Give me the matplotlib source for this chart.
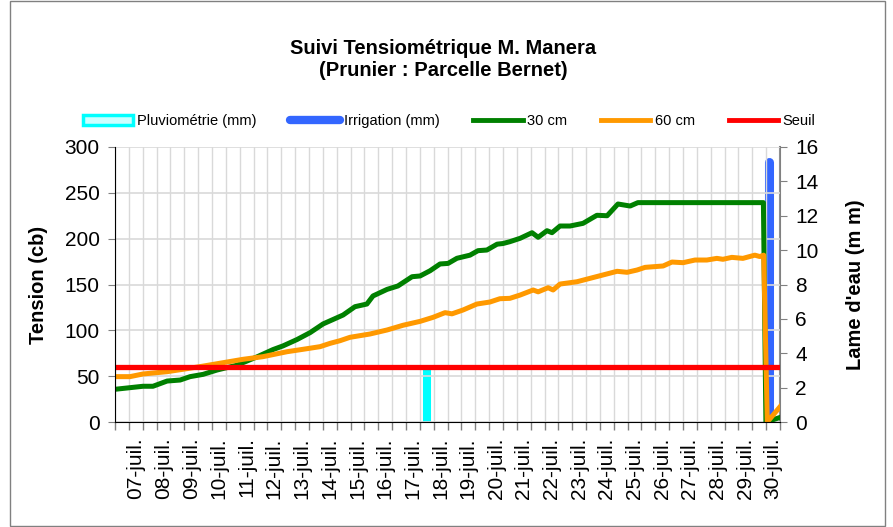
import numpy as np
import matplotlib.pyplot as plt
from matplotlib.patches import Patch, Rectangle
from matplotlib.lines import Line2D

plt.rcParams['font.family'] = ['Liberation Sans', 'DejaVu Sans']

# temps en jours de juillet (fractions)
jours_30 = [6.25, 7.26, 7.62, 8.13, 8.60, 8.96, 9.43, 9.93, 10.65, 11.37, 11.95,
            12.31, 12.82, 13.29, 13.76, 14.48, 14.91, 15.34, 15.56, 16.07, 16.46,
            16.97, 17.26, 17.62, 17.98, 18.27, 18.59, 19.06, 19.35, 19.67, 20.04,
            20.25, 20.50, 20.87, 21.30, 21.52, 21.84, 22.02, 22.31, 22.67, 23.14,
            23.64, 24.01, 24.40, 24.84, 25.12, 29.65, 29.74, 30.25]
tension_30 = [35.7, 39, 39, 44.7, 45.8, 49.5, 52, 56.7, 62, 71, 79,
              83, 90, 97.5, 107, 116.7, 125.8, 128.7, 137.5, 144.7, 148.4,
              158.5, 159.3, 165, 172.4, 173, 178.6, 182, 186.9, 187.6, 194,
              194.7, 196.7, 200.4, 206.5, 201.5, 208.7, 206.5, 213.8, 213.8, 216.7,
              225.5, 225, 237.8, 235.6, 239.3, 239.3, 0, 5]

jours_60 = [6.25, 6.79, 7.26, 8.13, 8.70, 9.43, 10.15, 10.87, 11.59, 12.46, 13.03,
            13.65, 14.01, 14.37, 14.73, 15.45, 16.07, 16.64, 17.26, 17.73, 18.16,
            18.41, 18.81, 19.31, 19.78, 20.14, 20.50, 20.87, 21.34, 21.52, 21.88,
            22.06, 22.31, 22.92, 23.39, 23.86, 24.37, 24.73, 25.09, 25.38, 26.03,
            26.35, 26.75, 27.18, 27.61, 27.97, 28.19, 28.51, 28.91, 29.34, 29.52,
            29.66, 29.79, 30.25]
tension_60 = [49.5, 49.5, 52.4, 54.9, 57.5, 61, 64.7, 68.4, 71.3, 76.7, 79.3,
              82.2, 85.8, 88.7, 92.4, 96, 100.4, 105.5, 109.8, 114.2, 119.3,
              118, 122.2, 128.7, 130.9, 134.5, 134.9, 138.5, 144, 142, 146.5,
              144, 150.5, 153, 156.7, 160.4, 164.4, 163.3, 165.8, 168.7, 170.2,
              174.5, 173.8, 176.7, 176.7, 178.5, 177.5, 179.6, 178.5, 182, 180.5,
              182, 0, 16.7]

seuil = 60

jours_pluie = [17.5]
pluie = [3.0]
jours_irrig = [29.85]
irrigation = [15.1]

jours_labels = list(range(7, 31))
labels = ['{:02d}-juil.'.format(d) for d in jours_labels]

fig = plt.figure(figsize=(8.93, 5.27), dpi=100)
ax = fig.add_axes([0.1288, 0.1992, 0.7447, 0.5219])
ax2 = ax.twinx()
ax.set_zorder(2)
ax2.set_zorder(1)
ax.patch.set_visible(False)

# barres (axe de droite)
ax2.vlines(jours_pluie, 0, pluie, colors='#00ffff', linewidth=5.8, capstyle='projecting')
ax2.vlines(jours_irrig, 0, irrigation, colors='#3366ff', linewidth=6.5, capstyle='round')

# courbes (axe de gauche)
ax.plot(jours_30, tension_30, color='#008000', lw=3.6, solid_joinstyle='round')
ax.plot(jours_60, tension_60, color='#ff9900', lw=3.6, solid_joinstyle='round')
ax.axhline(seuil, color='#ff0000', lw=3.8)

ax.set_xlim(6.25, 30.25)
ax.set_ylim(0, 300)
ax2.set_ylim(0, 16)
ax.set_yticks(np.arange(0, 301, 50))
ax2.set_yticks(np.arange(0, 17, 2))

ax.set_xticks(jours_labels)
ax.set_xticklabels(labels, rotation=90, fontsize=15)
ax.set_xticks(np.arange(6.25, 30.26, 0.5), minor=True)
ax.tick_params(axis='x', which='major', length=0, pad=11)
ax.tick_params(axis='x', which='minor', length=6, color='#808080', width=1)
ax.tick_params(axis='y', labelsize=15, length=5, color='#808080', pad=6)
ax2.tick_params(axis='y', labelsize=15, length=5, color='#808080', pad=6)

ax.grid(True, which='minor', axis='x', color='#d9d9d9', lw=1)
ax.grid(True, which='major', axis='y', color='#d9d9d9', lw=1.2)
ax.grid(False, which='major', axis='x')

for a in (ax, ax2):
    a.spines['top'].set_visible(False)
ax.spines['right'].set_visible(False)
ax2.spines['left'].set_visible(False)
ax2.spines['bottom'].set_visible(False)
ax.spines['left'].set_color('black')
ax.spines['bottom'].set_color('black')
ax2.spines['right'].set_color('#808080')
ax2.spines['right'].set_linewidth(1.5)

ax.set_ylabel('Tension (cb)', fontsize=14.5, fontweight='bold', labelpad=12)
ax2.set_ylabel("Lame d'eau (m m)", fontsize=14.5, fontweight='bold', labelpad=20)

fig.text(0.496, 0.888, 'Suivi Tensiométrique M. Manera\n(Prunier : Parcelle Bernet)',
         ha='center', va='center', fontsize=14.5, fontweight='bold', linespacing=1.2)

handles = [
    Patch(facecolor='#ccffff', edgecolor='#00ffff', linewidth=2.5),
    Line2D([], [], color='#3366ff', lw=6, solid_capstyle='round'),
    Line2D([], [], color='#008000', lw=3.5),
    Line2D([], [], color='#ff9900', lw=3.5),
    Line2D([], [], color='#ff0000', lw=3.5),
]
names = ['Pluviométrie (mm)', 'Irrigation (mm)', '30 cm', '60 cm', 'Seuil']
fig.legend(handles, names, loc='center', bbox_to_anchor=(0.503, 0.770), ncol=5,
           frameon=False, fontsize=10.5, handlelength=3.4, handletextpad=0.3,
           columnspacing=2.3)

# cadre du graphique
fig.patches.append(Rectangle((0.011, 0.002), 0.980, 0.996, transform=fig.transFigure,
                             fill=False, edgecolor='#808080', lw=1))

fig.savefig('out.png', dpi=100)
